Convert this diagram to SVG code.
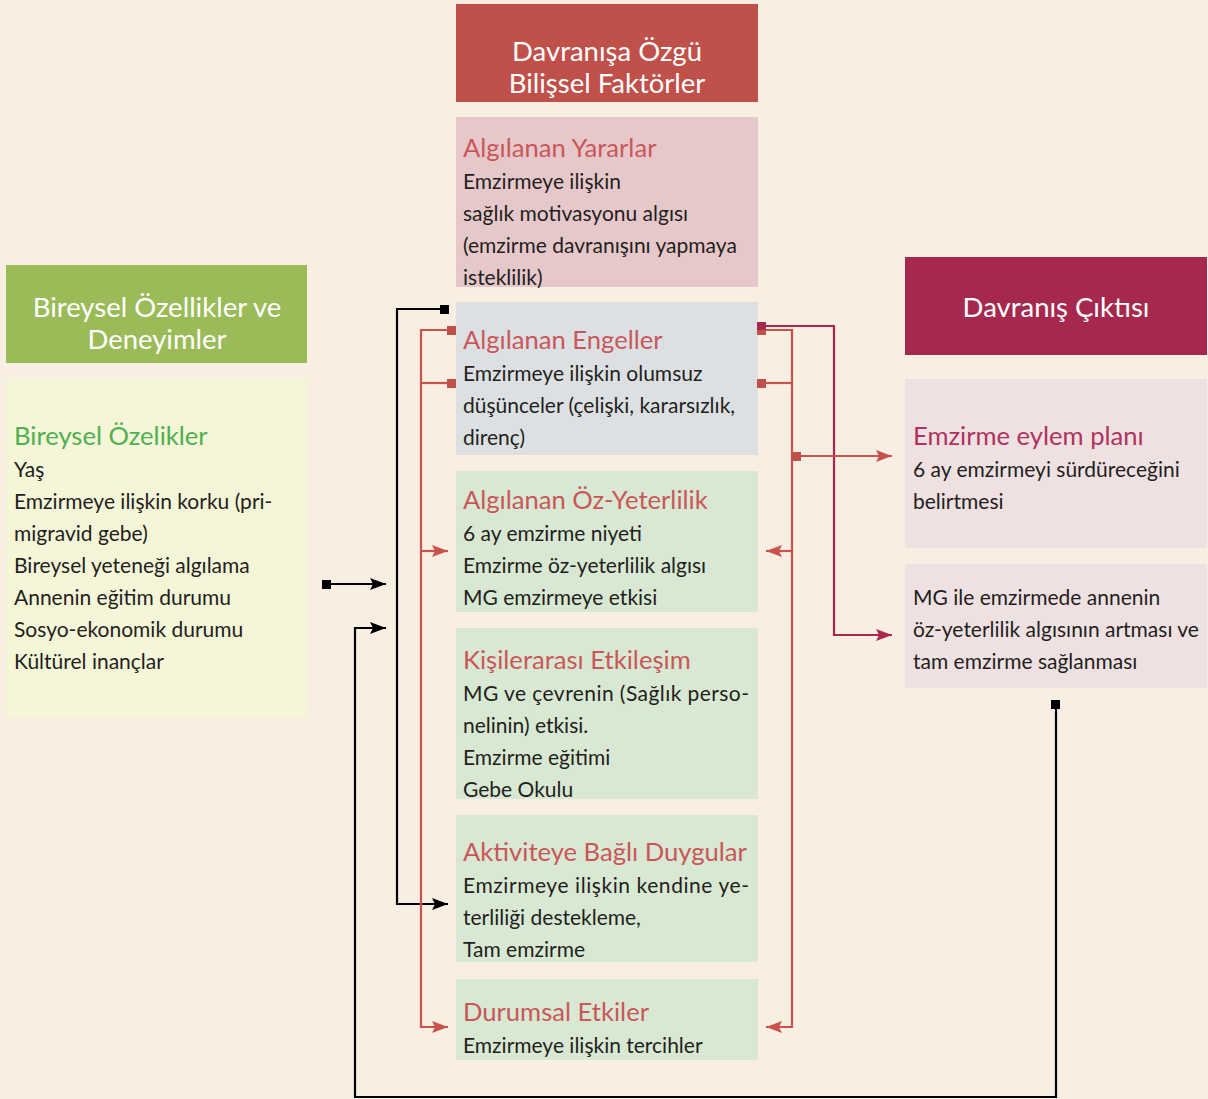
<svg xmlns="http://www.w3.org/2000/svg" width="1208" height="1099" viewBox="0 0 1208 1099">
<defs>
<style>
text{font-family:"Lato","Open Sans","Liberation Sans",sans-serif}
.hd{fill:#fff;font-size:27.5px;text-anchor:middle}
.t{font-size:25.6px;fill:#c9575a}
.tg{font-size:25.6px;fill:#4fb04f}
.tc{font-size:25.6px;fill:#b0325e}
.b{font-size:21px;fill:#231f20}
.r{stroke:#c9524c;stroke-width:2.2;fill:none}
.c{stroke:#a8284f;stroke-width:2.2;fill:none}
.k{stroke:#000;stroke-width:2.2;fill:none}
</style>
<marker id="ar" viewBox="0 0 16 12" refX="16" refY="6" markerWidth="16" markerHeight="12" markerUnits="userSpaceOnUse" orient="auto"><path d="M0,0 L16,6 L0,12 L3,6 Z" fill="#c9524c"/></marker>
<marker id="ac" viewBox="0 0 16 12" refX="16" refY="6" markerWidth="16" markerHeight="12" markerUnits="userSpaceOnUse" orient="auto"><path d="M0,0 L16,6 L0,12 L3,6 Z" fill="#a8284f"/></marker>
<marker id="ak" viewBox="0 0 16 12" refX="16" refY="6" markerWidth="16" markerHeight="12" markerUnits="userSpaceOnUse" orient="auto"><path d="M0,0 L16,6 L0,12 L3,6 Z" fill="#000"/></marker>
</defs>
<rect width="1208" height="1099" fill="#f8eee2"/>

<g id="header-mid"><rect x="456" y="4" width="302" height="98" fill="#c0504a"/><text class="hd" x="607" y="61">Davranışa Özgü</text><text class="hd" x="607" y="93">Bilişsel Faktörler</text></g>
<g id="header-left"><rect x="6" y="265" width="301" height="98" fill="#9bbb59"/><text class="hd" x="157" y="317">Bireysel Özellikler ve</text><text class="hd" x="157" y="349">Deneyimler</text></g>
<g id="header-right"><rect x="905" y="257" width="302" height="98" fill="#a5284f"/><text class="hd" x="1056" y="317">Davranış Çıktısı</text></g>

<g id="yararlar"><rect x="456" y="117" width="302" height="170" fill="#e6c8cb"/>
<text class="t" x="463" y="157">Algılanan Yararlar</text>
<text class="b" x="463" y="189">Emzirmeye ilişkin</text>
<text class="b" x="463" y="221">sağlık motivasyonu algısı</text>
<text class="b" x="463" y="253">(emzirme davranışını yapmaya</text>
<text class="b" x="463" y="285">isteklilik)</text></g>

<g id="engeller"><rect x="456" y="302" width="302" height="153" fill="#dde0e2"/>
<text class="t" x="463" y="349">Algılanan Engeller</text>
<text class="b" x="463" y="381">Emzirmeye ilişkin olumsuz</text>
<text class="b" x="463" y="413">düşünceler (çelişki, kararsızlık,</text>
<text class="b" x="463" y="445">direnç)</text></g>

<g id="ozyeterlilik"><rect x="456" y="471" width="302" height="141" fill="#d8e8d2"/>
<text class="t" x="463" y="509">Algılanan Öz-Yeterlilik</text>
<text class="b" x="463" y="541">6 ay emzirme niyeti</text>
<text class="b" x="463" y="573">Emzirme öz-yeterlilik algısı</text>
<text class="b" x="463" y="605">MG emzirmeye etkisi</text></g>

<g id="kisilerarasi"><rect x="456" y="628" width="302" height="171" fill="#d8e8d2"/>
<text class="t" x="463" y="669">Kişilerarası Etkileşim</text>
<text class="b" x="463" y="701" textLength="286" lengthAdjust="spacing">MG ve çevrenin (Sağlık perso-</text>
<text class="b" x="463" y="733">nelinin) etkisi.</text>
<text class="b" x="463" y="765">Emzirme eğitimi</text>
<text class="b" x="463" y="797">Gebe Okulu</text></g>

<g id="aktivite"><rect x="456" y="815" width="302" height="147" fill="#d8e8d2"/>
<text class="t" x="463" y="861">Aktiviteye Bağlı Duygular</text>
<text class="b" x="463" y="893" textLength="286" lengthAdjust="spacing">Emzirmeye ilişkin kendine ye-</text>
<text class="b" x="463" y="925">terliliği destekleme,</text>
<text class="b" x="463" y="957">Tam emzirme</text></g>

<g id="durumsal"><rect x="456" y="979" width="302" height="81" fill="#d8e8d2"/>
<text class="t" x="463" y="1021">Durumsal Etkiler</text>
<text class="b" x="463" y="1053">Emzirmeye ilişkin tercihler</text></g>

<g id="bireysel"><rect x="6" y="378" width="301" height="339" fill="#f5f5d8"/>
<text class="tg" x="14" y="445">Bireysel Özelikler</text>
<text class="b" x="14" y="477">Yaş</text>
<text class="b" x="14" y="509">Emzirmeye ilişkin korku (pri-</text>
<text class="b" x="14" y="541">migravid gebe)</text>
<text class="b" x="14" y="573">Bireysel yeteneği algılama</text>
<text class="b" x="14" y="605">Annenin eğitim durumu</text>
<text class="b" x="14" y="637">Sosyo-ekonomik durumu</text>
<text class="b" x="14" y="669">Kültürel inançlar</text></g>

<g id="eylem"><rect x="905" y="379" width="302" height="169" fill="#efe1e2"/>
<text class="tc" x="913" y="445">Emzirme eylem planı</text>
<text class="b" x="913" y="477">6 ay emzirmeyi sürdüreceğini</text>
<text class="b" x="913" y="509">belirtmesi</text></g>

<g id="sonuc"><rect x="905" y="564" width="302" height="124" fill="#efe1e2"/>
<text class="b" x="913" y="605">MG ile emzirmede annenin</text>
<text class="b" x="913" y="637">öz-yeterlilik algısının artması ve</text>
<text class="b" x="913" y="669">tam emzirme sağlanması</text></g>

<g id="connectors">
<polyline class="k" points="444,309 397,309 397,904 448,904" marker-end="url(#ak)"/>
<rect x="440" y="305" width="9" height="9" fill="#000"/>
<line class="k" x1="327" y1="584" x2="386" y2="584" marker-end="url(#ak)"/>
<rect x="322" y="580" width="9" height="9" fill="#000"/>
<polyline class="k" points="1056,705 1056,1097 355,1097 355,628 386,628" marker-end="url(#ak)"/>
<rect x="1051" y="700" width="9" height="9" fill="#000"/>
<polyline class="r" points="452,330 421,330 421,1027 448,1027" marker-end="url(#ar)"/>
<line class="r" x1="452" y1="383" x2="421" y2="383"/>
<line class="r" x1="421" y1="551" x2="448" y2="551" marker-end="url(#ar)"/>
<rect x="447" y="326" width="9" height="9" fill="#c0504a"/>
<rect x="447" y="379" width="9" height="9" fill="#c0504a"/>
<polyline class="c" points="762,326 834,326 834,635 892,635" marker-end="url(#ac)"/>
<polyline class="r" points="762,330 792,330 792,1027 766,1027" marker-end="url(#ar)"/>
<line class="r" x1="762" y1="383" x2="792" y2="383"/>
<line class="r" x1="792" y1="551" x2="766" y2="551" marker-end="url(#ar)"/>
<line class="r" x1="797" y1="456" x2="892" y2="456" marker-end="url(#ar)"/>
<rect x="757" y="329" width="9" height="6" fill="#c0504a"/>
<rect x="757" y="322" width="9" height="8" fill="#a5284f"/>
<rect x="757" y="379" width="9" height="9" fill="#c0504a"/>
<rect x="792" y="452" width="9" height="9" fill="#c0504a"/>
</g>
</svg>
